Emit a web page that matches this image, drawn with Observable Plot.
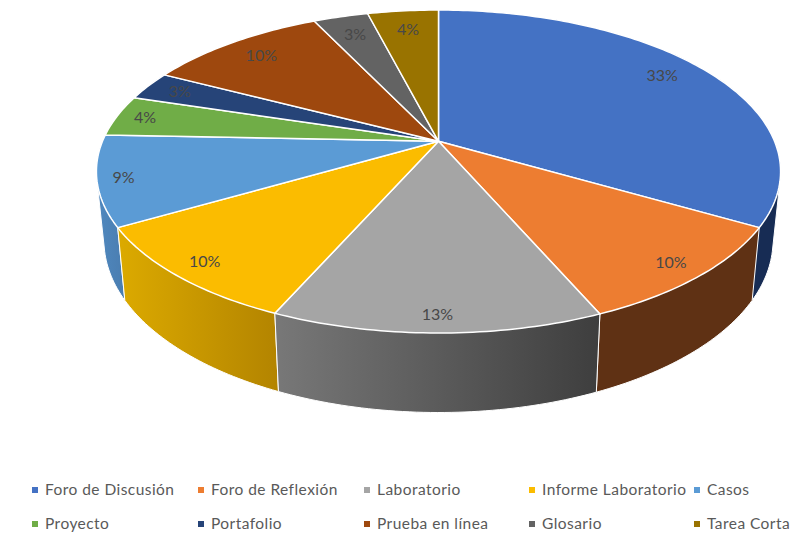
<!DOCTYPE html>
<html>
<head>
<meta charset="utf-8">
<script src="https://cdn.jsdelivr.net/npm/d3@7"></script>
<script src="https://cdn.jsdelivr.net/npm/@observablehq/plot@0.6"></script>
<style>
  html, body { margin: 0; padding: 0; background: #fff; }
  #chart svg { display: block; }
  #legend { position: relative; height: 73px; width: 810px; font: 15.5px Lato, sans-serif; color: #595959; letter-spacing: 0.45px; }
  #legend .item { position: absolute; white-space: nowrap; line-height: 18px; }
  #legend .swatch { position: absolute; width: 6px; height: 6px; left: -13px; top: 7px; }
</style>
</head>
<body>
<div id="chart"></div>
<div id="legend"></div>
<script>
const categories = ["Foro de Discusión", "Foro de Reflexión", "Laboratorio", "Informe Laboratorio", "Casos",
                    "Proyecto", "Portafolio", "Prueba en línea", "Glosario", "Tarea Corta"];
const shares = [33.3, 10.1, 13.1, 10.0, 9.0, 4.1, 2.9, 10.2, 3.1, 4.0];
const labels = ["33%", "10%", "13%", "10%", "9%", "4%", "3%", "10%", "3%", "4%"];
const colors = ["#4472c4", "#ed7d31", "#a5a5a5", "#fbbc00", "#5b9bd5", "#70ad47", "#264478", "#9e480e", "#636363", "#997300"];
const wallLeft = ["#172c54", "#5f3114", "#787878", "#dcaa00", "#4f88bf", "#43682b", "#172c54", "#5f3114", "#3f3f3f", "#5c4500"];
const wallRight = ["#172c54", "#5f3114", "#3e3e3e", "#b38400", "#4a7db0", "#43682b", "#172c54", "#5f3114", "#3f3f3f", "#5c4500"];
const legendColumns = [45, 211, 377, 542, 707];
const legendRows = [10, 44];

// Perspective view of a disc: the pie centre sits above the centre of its ellipse.
const tilt = -0.187;
const planes = {
  top: {sx: 0.9826, sy: 1, cy: 0},
  bottom: {sx: 0.9608, sy: 1.0638, cy: 0.4285}
};
function project(turn, r, plane) {
  const p = planes[plane];
  const a = turn * 2 * Math.PI;
  const u = r * Math.sin(a), v = -r * Math.cos(a);
  const w = 1 + tilt * v;
  return {x: p.sx * u / w, y: p.cy + p.sy * (v + tilt) / w};
}

const total = d3.sum(shares);
const ends = d3.cumsum(shares).map((c) => c / total);
const slices = categories.map((name, i) => ({
  name, i, label: labels[i], start: i ? ends[i - 1] : 0, end: ends[i]
}));
function arc(s, plane) {
  const n = Math.max(2, Math.ceil((s.end - s.start) * 360));
  return d3.range(n + 1).map((k) => project(s.start + (s.end - s.start) * k / n, 1, plane));
}
const topPolys = slices.flatMap((s) => {
  const c = project(0, 0, "top");
  return [c, ...arc(s, "top"), c].map((p) => ({...p, name: s.name}));
});
// A wall is the hull of its top and bottom arcs, so the silhouette runs tangent between the discs.
const wallPoly = (s) => {
  const hull = d3.polygonHull([...arc(s, "top"), ...arc(s, "bottom")].map((p) => [p.x, p.y]));
  return [...hull, hull[0]].map(([x, y]) => ({x, y}));
};
// Label seat, tuned to where best-fit placement leaves labels around the rim.
const labelPoints = slices.map((s) => {
  const mid = (s.start + s.end) / 2;
  const a = mid * 2 * Math.PI;
  const sin = Math.sin(a), cos = Math.cos(a);
  const r = 0.875 - 0.045 * cos + 0.05 * Math.pow(Math.max(0, -sin), 8);
  const turn = mid - 0.014 * Math.max(0, sin) * Math.max(0, cos);
  return {...project(turn, r, "top"), label: s.label};
});

const defs = () => {
  const d = d3.create("svg:defs");
  slices.forEach((s) => {
    const g = d.append("linearGradient").attr("id", "wall" + s.i);
    g.append("stop").attr("offset", "0%").attr("stop-color", wallLeft[s.i]);
    g.append("stop").attr("offset", "100%").attr("stop-color", wallRight[s.i]);
  });
  return d.node();
};

// Walls are painted back-to-front; the top face then hides everything behind it.
const wallOrder = [...slices].sort((a, b) =>
  Math.abs(((b.start + b.end) / 2) - 0.5) - Math.abs(((a.start + a.end) / 2) - 0.5));

const chart = Plot.plot({
  width: 810, height: 470,
  margin: 0,
  x: {domain: [-438 / 342, 372 / 342], range: [0, 810], axis: null},
  y: {domain: [-171 / 161.5, 299 / 161.5], range: [0, 470], axis: null},
  color: {domain: categories, range: colors},
  style: {background: "#fff"},
  marks: [
    defs,
    wallOrder.map((s) => Plot.line(wallPoly(s), {
      x: "x", y: "y", fill: `url(#wall${s.i})`, stroke: "white", strokeWidth: 1, curve: "linear"
    })),
    Plot.line(topPolys, {
      x: "x", y: "y", z: "name", fill: "name", stroke: "white", strokeWidth: 1.5, curve: "linear", strokeLinejoin: "round"
    }),
    Plot.text(labelPoints, {
      x: "x", y: "y", text: "label", fill: "#484848", fontSize: 16, fontFamily: "Lato, sans-serif"
    })
  ]
});
document.getElementById("chart").appendChild(chart);

const legend = d3.select("#legend");
categories.forEach((name, i) => {
  const item = legend.append("div").attr("class", "item")
    .style("left", legendColumns[i % 5] + "px")
    .style("top", legendRows[Math.floor(i / 5)] + "px")
    .text(name);
  item.append("span").attr("class", "swatch").style("background", colors[i]);
});
</script>
</body>
</html>
